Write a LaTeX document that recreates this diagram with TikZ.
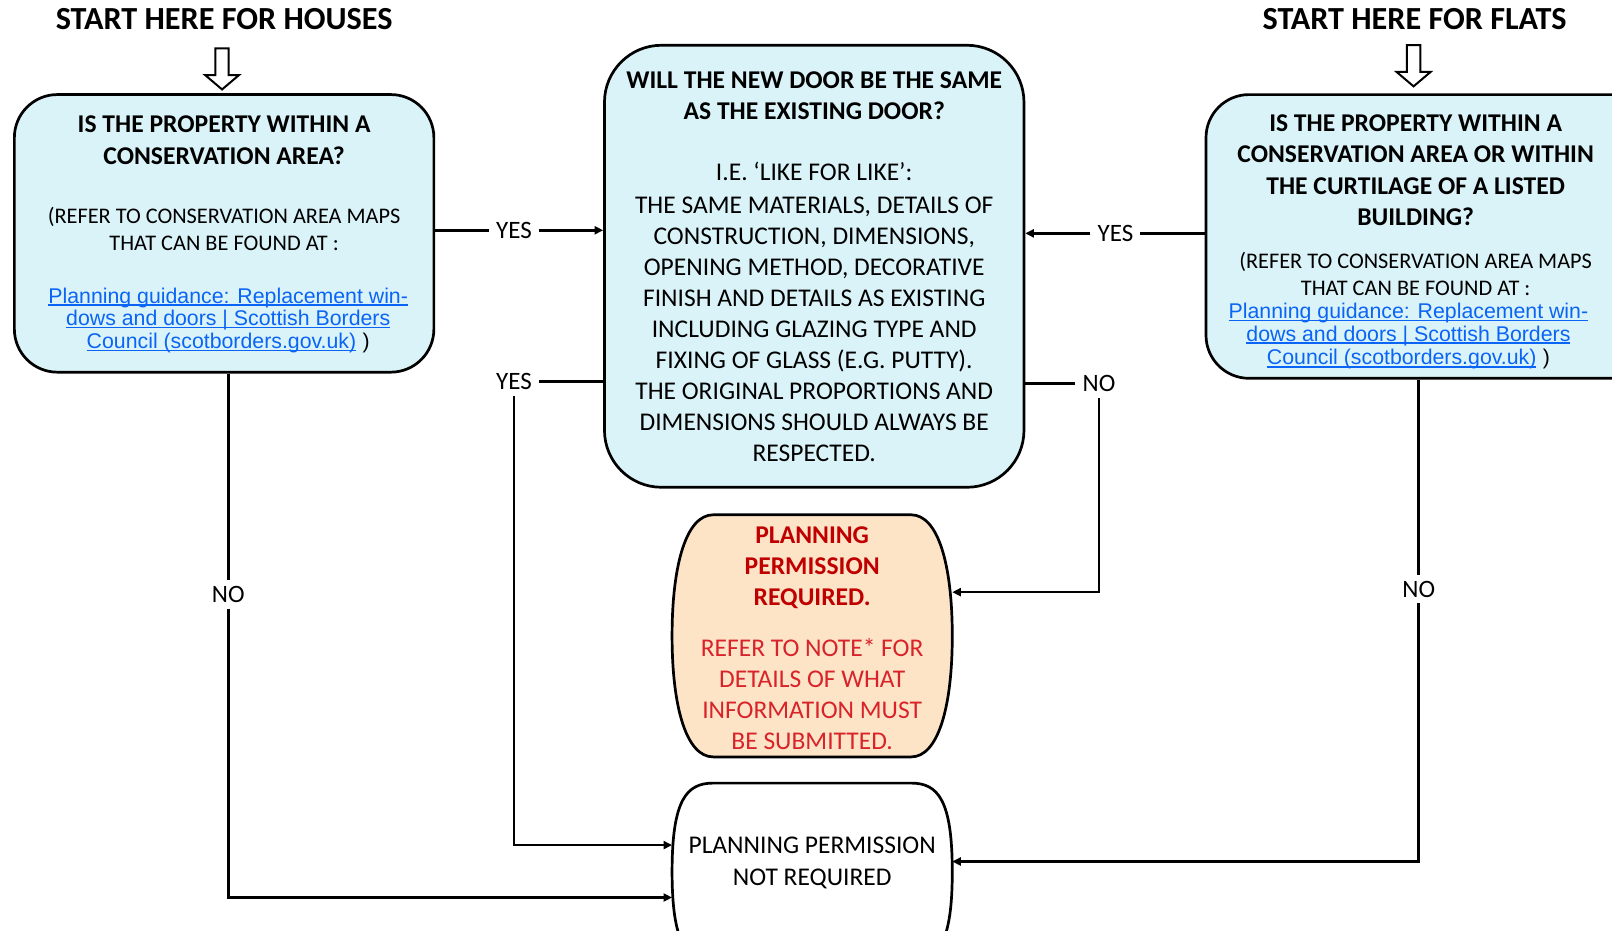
\documentclass[tikz,border=0pt]{standalone}
\usepackage{fontspec}
\setmainfont{Carlito}
\newfontfamily\linkfont{Liberation Sans}
\usetikzlibrary{arrows.meta,calc}
\definecolor{boxblue}{HTML}{DAF3F8}
\definecolor{peach}{HTML}{FDE4C6}
\definecolor{darkred}{HTML}{C00000}
\definecolor{midred}{HTML}{D8232A}
\definecolor{linkblue}{HTML}{0A64F5}
\newcommand\ulk[1]{\setbox0\hbox{#1}\rlap{\rule[-2.6pt]{\wd0}{1.5pt}}\box0}
\newcommand\barrelpath[2]{%
  \draw[line width=2.7pt, fill=#2]
    ($(#1.north west)+(40,0)$) -- ($(#1.north east)+(-40,0)$)
    .. controls ($(#1.north east)+(-14,0)$) and ($(#1.east)+(0,-70)$) .. (#1.east)
    .. controls ($(#1.east)+(0,70)$) and ($(#1.south east)+(-14,0)$) .. ($(#1.south east)+(-40,0)$)
    -- ($(#1.south west)+(40,0)$)
    .. controls ($(#1.south west)+(14,0)$) and ($(#1.west)+(0,70)$) .. (#1.west)
    .. controls ($(#1.west)+(0,-70)$) and ($(#1.north west)+(14,0)$) .. cycle;}
\newcommand\hollowarr[2]{%
  \draw[line width=2pt, fill=white, line join=miter]
    ({#1-6.5},#2) -- ({#1+6.5},#2) -- ({#1+6.5},{#2+26}) -- ({#1+16.5},{#2+26})
    -- (#1,{#2+40}) -- ({#1-16.5},{#2+26}) -- ({#1-6.5},{#2+26}) -- cycle;}
\tikzset{
  qbox/.style={draw, line width=2.7pt, fill=boxblue, inner sep=0pt},
  shapebox/.style={draw=none, inner sep=0pt, outer sep=1.3pt},
  titletext/.style={anchor=base, inner sep=0pt, font=\fontsize{32.2}{38}\selectfont\bfseries},
  hdr/.style={anchor=base, inner sep=0pt, font=\fontsize{25.6}{31}\selectfont\bfseries},
  body/.style={anchor=base, inner sep=0pt, font=\fontsize{25.5}{31}\selectfont},
  smalltext/.style={anchor=base, inner sep=0pt, font=\fontsize{22.3}{27}\selectfont},
  linktext/.style={anchor=base, inner sep=0pt, text=linkblue, font=\linkfont\fontsize{21.3}{23}\selectfont},
  lbl/.style={font=\fontsize{25}{30}\selectfont, inner xsep=7pt, inner ysep=6pt},
  conn/.style={line width=2.6pt},
  arr/.style={conn, -{Triangle[length=8.5pt,width=8pt]}},
}
\begin{document}
\begin{tikzpicture}[x=1.02806pt,y=-1.02806pt]
\useasboundingbox (0,0) rectangle (1568,905.59);
\clip (0,0) rectangle (1568,905.59);
\fill[white] (0,0) rectangle (1568,905.59);

% titles
\node[titletext] (th) at (218,29) {START HERE FOR HOUSES};
\node[titletext] (tf) at (1376,29) {START HERE FOR FLATS};
\hollowarr{216}{47}
\hollowarr{1375}{44}

% boxes
\node[qbox, rounded corners=43pt, minimum width=419.5pt, minimum height=277.6pt] (lbox) at (218,227) {};
\node[qbox, rounded corners=57pt, minimum width=419.5pt, minimum height=442pt] (mbox) at (792,259) {};
\node[qbox, rounded corners=43pt, minimum width=483pt, minimum height=283.7pt] (rbox) at (1408,230) {};
\node[shapebox, minimum width=277.6pt, minimum height=239.5pt] (obox) at (790,618.5) {};
\node[shapebox, minimum width=277.6pt, minimum height=174.8pt] (bbox) at (790,848) {};
\barrelpath{obox}{peach}
\barrelpath{bbox}{white}

% left box text
\foreach \yy/\txt [count=\i] in {121/{IS THE PROPERTY WITHIN A},152/{CONSERVATION AREA?}}
  \node[hdr] (lh\i) at (218,{\yy+8}) {\txt};
\foreach \yy/\txt [count=\i] in {210/{(REFER TO CONSERVATION AREA MAPS},237/{THAT CAN BE FOUND AT :}}
  \node[smalltext] (ls\i) at (218,{\yy+7}) {\txt};
\foreach \yy/\txt [count=\i] in {288/{\ulk{Planning guidance: Replacement win-}},310/{\ulk{dows and doors | Scottish Borders}},332/{\ulk{Council (scotborders.gov.uk)}\hspace{0.3em}\textcolor{black}{)}}}
  \node[linktext] (ll\i) at (222,{\yy+7}) {\txt};

% middle box text
\foreach \yy/\txt [count=\i] in {78/{WILL THE NEW DOOR BE THE SAME},108/{AS THE EXISTING DOOR?}}
  \node[hdr] (mh\i) at (792,{\yy+8}) {\txt};
\foreach \yy/\txt [count=\i] in {168/{I.E. ‘LIKE FOR LIKE’:},200/{THE SAME MATERIALS, DETAILS OF},230/{CONSTRUCTION, DIMENSIONS,},260/{OPENING METHOD, DECORATIVE},290/{FINISH AND DETAILS AS EXISTING},320/{INCLUDING GLAZING TYPE AND},350/{FIXING OF GLASS (E.G. PUTTY).},381/{THE ORIGINAL PROPORTIONS AND},411/{DIMENSIONS SHOULD ALWAYS BE},441/{RESPECTED.}}
  \node[body] (mb\i) at (792,{\yy+8}) {\txt};

% right box text
\foreach \yy/\txt [count=\i] in {120/{IS THE PROPERTY WITHIN A},150/{CONSERVATION AREA OR WITHIN},181/{THE CURTILAGE OF A LISTED},211/{BUILDING?}}
  \node[hdr] (rh\i) at (1377,{\yy+8}) {\txt};
\foreach \yy/\txt [count=\i] in {254/{(REFER TO CONSERVATION AREA MAPS},280/{THAT CAN BE FOUND AT :}}
  \node[smalltext] (rs\i) at (1377,{\yy+7}) {\txt};
\foreach \yy/\txt [count=\i] in {303/{\ulk{Planning guidance: Replacement win-}},325/{\ulk{dows and doors | Scottish Borders}},348/{\ulk{Council (scotborders.gov.uk)}\hspace{0.3em}\textcolor{black}{)}}}
  \node[linktext] (rl\i) at (1370,{\yy+7}) {\txt};

% orange box text
\foreach \yy/\txt [count=\i] in {521/{PLANNING},551/{PERMISSION},581/{REQUIRED.}}
  \node[hdr, text=darkred] (oh\i) at (790,{\yy+8}) {\txt};
\foreach \yy/\txt [count=\i] in {631/{REFER TO NOTE* FOR},661/{DETAILS OF WHAT},691/{INFORMATION MUST},721/{BE SUBMITTED.}}
  \node[body, text=midred] (ob\i) at (790,{\yy+8}) {\txt};

% bottom box text
\foreach \yy/\txt [count=\i] in {822/{PLANNING PERMISSION},853/{NOT REQUIRED}}
  \node[body] (bb\i) at (790,{\yy+8}) {\txt};

% labels
\node[lbl] (yesA) at (500,224) {YES};
\node[lbl] (yesC) at (1085,227) {YES};
\node[lbl] (yesB) at (500,371) {YES};
\node[lbl] (noM) at (1069,373) {NO};
\node[lbl] (noL) at (222,578) {NO};
\node[lbl] (noR) at (1380,573) {NO};
\coordinate (yB) at (0,822);
\coordinate (yN) at (0,873);
\coordinate (yR) at (0,838);
\coordinate (yO) at (0,576);

% connectors
\draw[conn] (lbox.east |- yesA) -- (yesA.west);
\draw[arr] (yesA.east) -- (mbox.west |- yesA);
\draw[conn] (rbox.west |- yesC) -- (yesC.east);
\draw[arr] (yesC.west) -- (mbox.east |- yesC);
\draw[conn] (mbox.west |- yesB) -- (yesB.east);
\draw[arr] (yesB.south) |- (bbox.west |- yB);
\draw[conn] (mbox.east |- noM) -- (noM.west);
\draw[arr] (noM.south) |- (obox.east |- yO);
\draw[conn] (noL |- lbox.south) -- (noL.north);
\draw[arr] (noL.south) |- (bbox.west |- yN);
\draw[conn] (noR |- rbox.south) -- (noR.north);
\draw[arr] (noR.south) |- (bbox.east |- yR);
\end{tikzpicture}
\end{document}
